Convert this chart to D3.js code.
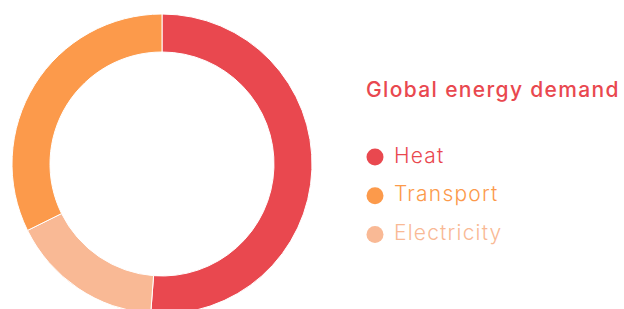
<!DOCTYPE html>
<html>
<head>
<meta charset="utf-8">
<script src="https://cdnjs.cloudflare.com/ajax/libs/d3/7.8.5/d3.min.js"></script>
<style>
  html, body { margin: 0; padding: 0; background: #fff; overflow: hidden; }
  .title { font-family: Inter, sans-serif; font-size: 21px; font-weight: 500; letter-spacing: 1.35px; }
  .legendText { font-family: Inter, sans-serif; font-size: 21px; font-weight: 300; letter-spacing: 1.2px; }
</style>
</head>
<body>
<div id="chart"></div>
<script>
// data (pie order, clockwise from 12 o'clock)
var categories = ["Heat", "Electricity", "Transport"];
var values = [51.2, 16.5, 32.3];
var colors = ["#e9484f", "#f9b995", "#fc9a4b"];
// legend order
var legendOrder = ["Heat", "Transport", "Electricity"];
var titleText = "Global energy demand";

var width = 624, height = 309;

var svg = d3.select("#chart").append("svg")
  .attr("width", width)
  .attr("height", height);

var color = d3.scaleOrdinal().domain(categories).range(colors);

//Donut
var pie = d3.pie().sort(null).value(function(d) { return d.value; });
var arc = d3.arc().innerRadius(112).outerRadius(150);

var data = categories.map(function(c, i) { return {name: c, value: values[i]}; });

var donut = svg.append("g")
  .attr("transform", "translate(162,164)");

donut.selectAll("path")
  .data(pie(data))
  .enter().append("path")
  .attr("d", arc)
  .style("fill", function(d) { return color(d.data.name); })
  .style("stroke", "#fff")
  .style("stroke-width", 1);

//Title
svg.append("text")
  .attr("class", "title")
  .attr("x", 366)
  .attr("y", 97)
  .style("fill", color("Heat"))
  .text(titleText);

//Legend
var legend = svg.selectAll(".legendItem")
  .data(legendOrder)
  .enter().append("g")
  .attr("class", "legendItem")
  .attr("transform", function(d, i) { return "translate(375," + (157 + i * 38.7) + ")"; });

legend.append("circle")
  .attr("r", 8.5)
  .style("fill", function(d) { return color(d); });

legend.append("text")
  .attr("class", "legendText")
  .attr("x", 19)
  .attr("y", 5.5)
  .style("fill", function(d) { return color(d); })
  .text(function(d) { return d; });
</script>
</body>
</html>
